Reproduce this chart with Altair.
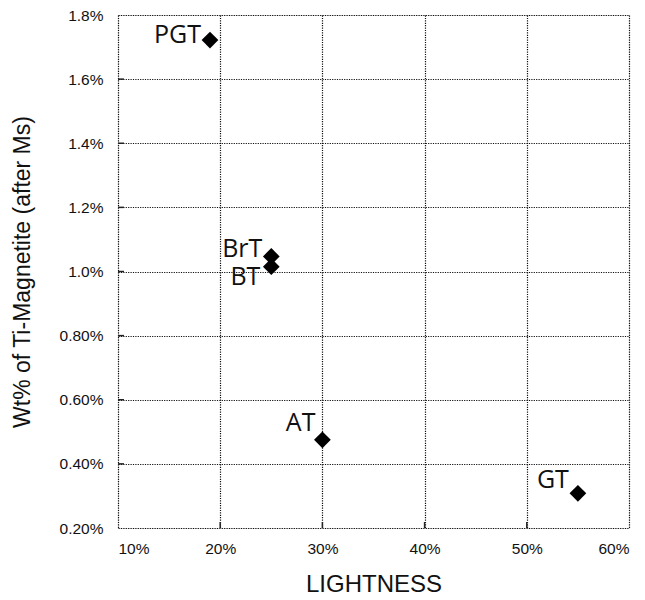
import altair as alt
import pandas as pd

labels = ["PGT", "BrT", "BT", "AT", "GT"]
lightness = [0.19, 0.25, 0.25, 0.30, 0.55]
ti_magnetite = [0.01722, 0.01047, 0.01015, 0.00475, 0.00308]

x_ticks = [0.10, 0.20, 0.30, 0.40, 0.50, 0.60]
y_ticks = [0.002, 0.004, 0.006, 0.008, 0.010, 0.012, 0.014, 0.016, 0.018]

df = pd.DataFrame({"label": labels, "x": lightness, "y": ti_magnetite})
W, H = 511, 513

xscale = alt.Scale(domain=[0.10, 0.60], nice=False, zero=False)
yscale = alt.Scale(domain=[0.002, 0.018], nice=False, zero=False)

xaxis = alt.Axis(
    values=x_ticks, format=".0%", title="LIGHTNESS", grid=True,
    gridColor="#111", gridDash=[1.2, 1.2], gridWidth=1.2,
    ticks=False, domain=False, labelPadding=13, labelFontSize=15.5,
    labelFont="Liberation Sans", labelColor="#111",
    titleFont="Liberation Sans", titleFontSize=24, titleFontWeight="normal",
    titlePadding=16, titleColor="#111",
)
yaxis = alt.Axis(
    values=y_ticks,
    labelExpr="datum.value < 0.0099 ? format(datum.value, '.2%') : format(datum.value, '.1%')",
    title="Wt% of Ti-Magnetite (after Ms)", grid=True,
    gridColor="#111", gridDash=[1.2, 1.2], gridWidth=1.2,
    ticks=False, domain=False, labelPadding=15, labelFontSize=15.5,
    labelFont="Liberation Sans", labelColor="#111",
    titleFont="Liberation Sans", titleFontSize=23, titleFontWeight="normal",
    titleX=-84, titleColor="#111",
)

base = alt.Chart(df)

points = base.mark_point(shape="diamond", filled=True, color="black", size=280, opacity=1).encode(
    x=alt.X("x:Q", scale=xscale, axis=xaxis),
    y=alt.Y("y:Q", scale=yscale, axis=yaxis),
)

offsets = {"PGT": (-9, 3), "BrT": (-9, 1), "BT": (-11, 18), "AT": (-7, -9), "GT": (-9, -5)}
text_layers = []
for lab, (dx, dy) in offsets.items():
    text_layers.append(
        base.transform_filter(alt.datum.label == lab).mark_text(
            align="right", baseline="alphabetic", dx=dx, dy=dy,
            font="Open Sans", fontSize=25, color="#111",
        ).encode(
            x=alt.X("x:Q", scale=xscale),
            y=alt.Y("y:Q", scale=yscale),
            text="label:N",
        )
    )

xt = pd.DataFrame({"v": x_ticks[1:-1]})
yt = pd.DataFrame({"v": y_ticks[1:-1]})
xtick_rules = alt.Chart(xt).mark_rule(color="#222", strokeWidth=1.5).encode(
    x=alt.X("v:Q", scale=xscale), y=alt.value(H), y2=alt.value(H - 6)
)
ytick_rules = alt.Chart(yt).mark_rule(color="#222", strokeWidth=1.5).encode(
    y=alt.Y("v:Q", scale=yscale), x=alt.value(0), x2=alt.value(6)
)

chart = alt.layer(xtick_rules, ytick_rules, points, *text_layers).properties(
    width=W, height=H,
    autosize=alt.AutoSizeParams(type="none"),
    padding={"left": 110, "top": 7, "right": 8, "bottom": 72},
).configure_view(stroke="#222", strokeWidth=1.6).configure(background="white")

chart.save("out.html", embed_options={"renderer": "svg", "actions": False})
